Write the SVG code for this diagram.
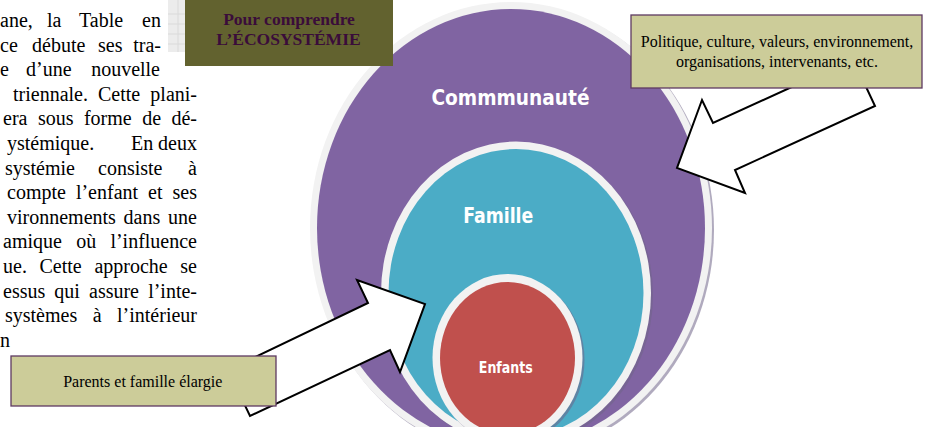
<svg xmlns="http://www.w3.org/2000/svg" width="927" height="427" viewBox="0 0 927 427">
<style>
.para{font-family:"Liberation Serif","Times New Roman",serif;font-size:20px;fill:#000}
.lbl{font-family:"DejaVu Sans Condensed","DejaVu Sans",sans-serif;font-weight:bold;fill:#fff;text-anchor:middle}
.ring{fill:#F2F2F2}
.shadow{fill:#6f6488;opacity:0.55}
.note{fill:#CCCC99;stroke:#5E3A62;stroke-width:1.3}
.notetxt{font-family:"Liberation Serif","Times New Roman",serif;font-size:16px;fill:#000;text-anchor:middle}
.arrow{fill:#fff;stroke:#000;stroke-width:2;stroke-linejoin:miter}
.boxtxt{font-family:"Liberation Serif","Times New Roman",serif;font-weight:bold;font-size:17.5px;fill:#3A0C3A;text-anchor:middle}
</style>
<rect width="927" height="427" fill="#fff"/>

<g id="paragraph" class="para">
<text y="27"><tspan x="0">ane,</tspan><tspan x="47">la</tspan><tspan x="79">Table</tspan><tspan x="161" text-anchor="end">en</tspan></text>
<text y="51.6"><tspan x="0">ce</tspan><tspan x="32">débute</tspan><tspan x="98">ses</tspan><tspan x="161" text-anchor="end">tra-</tspan></text>
<text y="76.2"><tspan x="0">e</tspan><tspan x="26">d’une</tspan><tspan x="160" text-anchor="end">nouvelle</tspan></text>
<text y="100.8"><tspan x="13">triennale.</tspan><tspan x="98">Cette</tspan><tspan x="197" text-anchor="end">plani-</tspan></text>
<text y="125.4"><tspan x="3">era</tspan><tspan x="37.9">sous</tspan><tspan x="83.9">forme</tspan><tspan x="142.2">de</tspan><tspan x="197" text-anchor="end">dé-</tspan></text>
<text y="150"><tspan x="7">ystémique.</tspan><tspan x="131">En</tspan><tspan x="197" text-anchor="end">deux</tspan></text>
<text y="174.6"><tspan x="5">systémie</tspan><tspan x="98">consiste</tspan><tspan x="197" text-anchor="end">à</tspan></text>
<text y="199.2"><tspan x="7">compte</tspan><tspan x="75.9">l’enfant</tspan><tspan x="148.1">et</tspan><tspan x="197" text-anchor="end">ses</tspan></text>
<text y="223.8"><tspan x="7">vironnements</tspan><tspan x="123.6">dans</tspan><tspan x="197" text-anchor="end">une</tspan></text>
<text y="248.4"><tspan x="3">amique</tspan><tspan x="76.2">où</tspan><tspan x="197" text-anchor="end">l’influence</tspan></text>
<text y="273"><tspan x="3">ue.</tspan><tspan x="39.5">Cette</tspan><tspan x="94.4">approche</tspan><tspan x="197" text-anchor="end">se</tspan></text>
<text y="297.6"><tspan x="3">essus</tspan><tspan x="54.3">qui</tspan><tspan x="89">assure</tspan><tspan x="197" text-anchor="end">l’inte-</tspan></text>
<text y="322.2"><tspan x="5">systèmes</tspan><tspan x="92.7">à</tspan><tspan x="197" text-anchor="end">l’intérieur</tspan></text>
<text y="346.8"><tspan x="0">n</tspan></text>
</g>

<g id="grid-texture">
<rect x="168" y="0" width="17" height="52" fill="#ececec"/>
<path d="M168 14H185M168 24H185M168 34H185M168 44H185M178 0V52" stroke="#dadada" stroke-width="1" fill="none"/>
</g>

<g id="communaute">
<ellipse class="shadow" cx="513" cy="230" rx="201" ry="226"/>
<ellipse class="ring" cx="511" cy="228" rx="201" ry="226"/>
<ellipse cx="511" cy="228" rx="194" ry="219" fill="#8064A2"/>
<text class="lbl" x="510.5" y="105" font-size="21" textLength="158" lengthAdjust="spacingAndGlyphs">Commmunauté</text>
</g>

<g id="famille">
<ellipse class="shadow" cx="518" cy="295" rx="135" ry="151.5"/>
<ellipse class="ring" cx="516" cy="293" rx="135" ry="151.5"/>
<ellipse cx="516" cy="293" rx="127.5" ry="144" fill="#4BACC6"/>
<text class="lbl" x="498.3" y="222.7" font-size="21" textLength="70" lengthAdjust="spacingAndGlyphs">Famille</text>
</g>

<g id="enfants">
<ellipse class="shadow" cx="509.5" cy="360" rx="75" ry="84"/>
<ellipse class="ring" cx="507.5" cy="358" rx="75" ry="84"/>
<ellipse cx="507.5" cy="358" rx="67.5" ry="76" fill="#C0504D"/>
<text class="lbl" x="505.8" y="372.7" font-size="15" textLength="54" lengthAdjust="spacingAndGlyphs">Enfants</text>
</g>

<g id="connectors">
<polygon class="arrow" points="853,59 713,123 702,100 677,168 745,193 735,170 875,106"/>
<polygon class="arrow" points="228,370 368,303 357,280 425,304 400,372 390,350 250,416"/>
</g>

<g id="box-ecosystemie">
<rect x="185" y="-2" width="208" height="68" fill="#62622F"/>
<text class="boxtxt" x="289" y="25">Pour comprendre</text>
<text class="boxtxt" x="288.5" y="45">L’ÉCOSYSTÉMIE</text>
</g>

<g id="box-communaute-facteurs">
<rect class="note" x="631" y="15" width="291" height="73"/>
<text class="notetxt" x="777" y="46.7">Politique, culture, valeurs, environnement,</text>
<text class="notetxt" x="777" y="67">organisations, intervenants, etc.</text>
</g>

<g id="box-parents">
<rect class="note" x="11" y="356" width="265" height="50"/>
<text class="notetxt" x="142.8" y="386.7">Parents et famille élargie</text>
</g>
</svg>
